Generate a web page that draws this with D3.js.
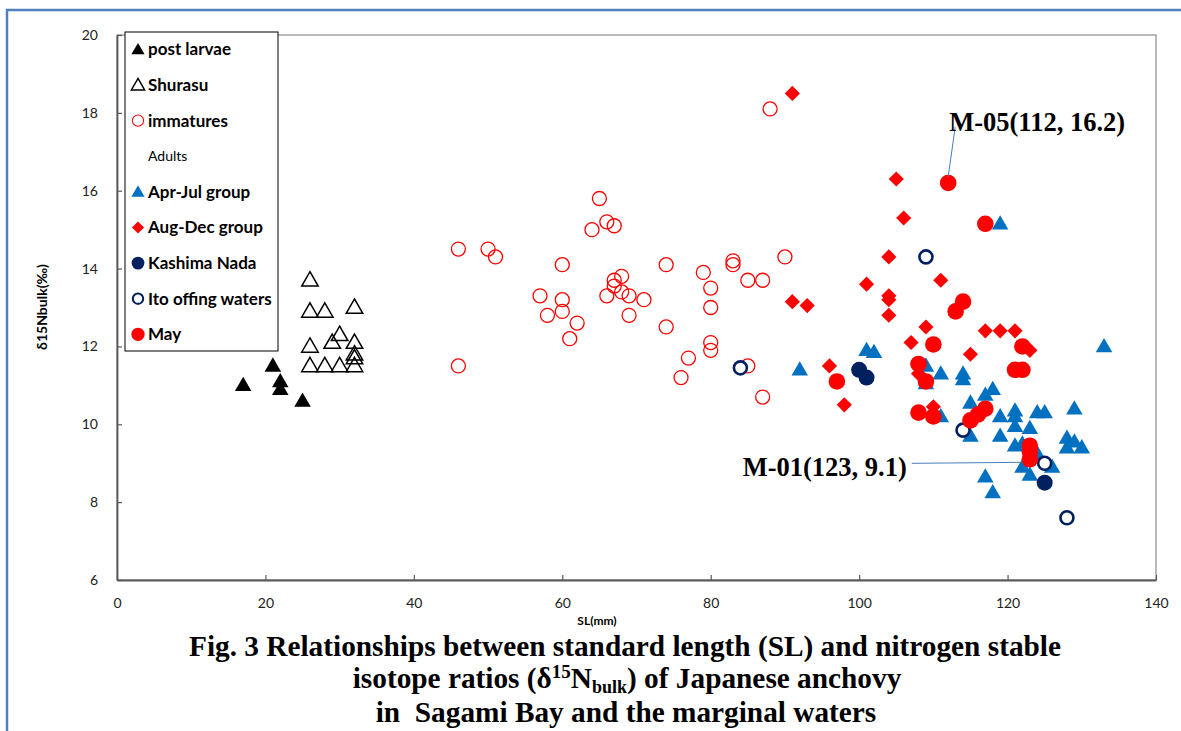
<!DOCTYPE html>
<html>
<head>
<meta charset="utf-8">
<script src="https://cdnjs.cloudflare.com/ajax/libs/d3/7.8.5/d3.min.js"></script>
<style>
  body { margin: 0; background: #fff; }
  svg { display: block; }
</style>
</head>
<body>
<svg class="chart"></svg>
<script>
const graphWidth = 1181;
const graphHeight = 731;

// values, [SL(mm), d15N]
const postLarvae = [[17, 11.0], [21, 11.5], [22, 11.1], [22, 10.9], [25, 10.6]];
const shurasu = [
  [26, 13.7], [26, 12.9], [28, 12.9], [32, 13.0], [30, 12.3], [29, 12.1], [26, 12.0],
  [32, 12.1], [32, 11.8], [32, 11.7], [26, 11.5], [28, 11.5], [30, 11.5], [32, 11.5]
];
const immatures = [
  [88, 18.1], [46, 14.5], [50, 14.5], [51, 14.3], [65, 15.8], [66, 15.2], [67, 15.1],
  [64, 15.0], [60, 14.1], [74, 14.1], [83, 14.2], [83, 14.1], [90, 14.3], [79, 13.9],
  [85, 13.7], [87, 13.7], [80, 13.5], [80, 13.0], [68, 13.8], [67, 13.7], [67, 13.55],
  [68, 13.4], [66, 13.3], [69, 13.3], [71, 13.2], [57, 13.3], [60, 13.2], [60, 12.9],
  [58, 12.8], [62, 12.6], [69, 12.8], [61, 12.2], [74, 12.5], [80, 12.1], [80, 11.9],
  [77, 11.7], [76, 11.2], [85, 11.5], [87, 10.7], [46, 11.5]
];
const aprJul = [
  [119, 15.15], [133, 12.0], [92, 11.4], [101, 11.9], [102, 11.85], [109, 11.5],
  [109, 11.05], [111, 11.3], [114, 11.3], [114, 11.15], [111, 10.2], [115, 10.55],
  [117, 10.75], [118, 10.9], [115, 9.7], [119, 10.2], [121, 10.35], [121, 10.2],
  [121, 9.95], [119, 9.7], [123, 9.9], [124, 10.3], [125, 10.3], [122, 9.5], [122, 8.9],
  [123, 8.7], [124, 9.25], [126, 8.9], [129, 10.4], [128, 9.65], [129, 9.55], [130, 9.4],
  [128, 9.4], [117, 8.65], [118, 8.25], [121, 9.45]
];
const augDec = [
  [91, 18.5], [105, 16.3], [106, 15.3], [104, 14.3], [111, 13.7], [101, 13.6], [104, 13.3],
  [104, 13.2], [104, 12.8], [91, 13.15], [93, 13.05], [109, 12.5], [107, 12.1], [117, 12.4],
  [119, 12.4], [121, 12.4], [115, 11.8], [123, 11.9], [96, 11.5], [108, 11.3], [98, 10.5],
  [110, 10.45]
];
const kashimaNada = [[100, 11.4], [101, 11.2], [125, 8.5]];
const itoOffing = [[84, 11.45], [109, 14.3], [114, 9.85], [125, 9.0], [128, 7.6]];
const may = [
  [112, 16.2], [117, 15.15], [114, 13.15], [113, 12.9], [110, 12.05], [122, 12.0],
  [121, 11.4], [122, 11.4], [97, 11.1], [108, 11.55], [109, 11.1], [108, 10.3], [110, 10.2],
  [115, 10.1], [116, 10.25], [117, 10.4], [123, 9.45], [123, 9.3], [123, 9.1]
];

const xTicks = [0, 20, 40, 60, 80, 100, 120, 140];
const yTicks = [6, 8, 10, 12, 14, 16, 18, 20];
const annotations = [
  { label: 'M-05(112, 16.2)', point: [112, 16.2], side: 'above' },
  { label: 'M-01(123, 9.1)', point: [123, 9.1], side: 'left' }
];

const red = '#ff0000';
const blue = '#0070c0';
const navy = '#002060';

const svg = d3
  .select('.chart')
  .attr('width', graphWidth)
  .attr('height', graphHeight);

svg.append('rect').attr('width', graphWidth).attr('height', graphHeight).attr('fill', '#fff');

// blue frame of the text box around the figure
svg
  .append('rect')
  .attr('x', 7)
  .attr('y', 10)
  .attr('width', 1400)
  .attr('height', 1000)
  .attr('fill', 'none')
  .attr('stroke', '#4f81bd')
  .attr('stroke-width', 2.5);

const x = d3.scaleLinear().domain([0, 140]).range([117, 1156]);
const y = d3.scaleLinear().domain([6, 20]).range([580, 35]);

// plot frame (top/right)
svg
  .append('rect')
  .attr('x', x(0))
  .attr('y', y(20))
  .attr('width', x(140) - x(0))
  .attr('height', y(6) - y(20))
  .attr('fill', 'none')
  .attr('stroke', '#8c8c8c')
  .attr('stroke-width', 1.2);

const xAxis = svg
  .append('g')
  .attr('transform', 'translate(0,' + y(6) + ')')
  .call(d3.axisBottom(x).tickValues(xTicks).tickSizeInner(-5).tickSizeOuter(0).tickPadding(18));

const yAxis = svg
  .append('g')
  .attr('transform', 'translate(' + x(0) + ',0)')
  .call(d3.axisLeft(y).tickValues(yTicks).tickSizeInner(-5).tickSizeOuter(0).tickPadding(19));

[xAxis, yAxis].forEach(ax => {
  ax.select('.domain').attr('stroke', '#595959').attr('stroke-width', 1.8);
  ax.selectAll('.tick line').attr('stroke', '#595959').attr('stroke-width', 1.2);
  ax.selectAll('.tick text')
    .attr('fill', '#222')
    .style('font-family', 'Lato, sans-serif')
    .style('font-size', '14px');
});

svg
  .append('text')
  .attr('x', 597)
  .attr('y', 625)
  .attr('text-anchor', 'middle')
  .style('font-family', 'Lato, sans-serif')
  .style('font-weight', 'bold')
  .style('font-size', '12px')
  .text('SL(mm)');

svg
  .append('text')
  .attr('transform', 'translate(47,307) rotate(-90)')
  .attr('text-anchor', 'middle')
  .style('font-family', 'Lato, sans-serif')
  .style('font-weight', 'bold')
  .style('font-size', '14px')
  .text('δ15Nbulk(‰)');

// marker styles, in legend order (also drawing order)
const series = [
  { name: 'post larvae', data: postLarvae, kind: 'tri', fill: '#000', stroke: 'none' },
  { name: 'Shurasu', data: shurasu, kind: 'tri', fill: 'none', stroke: '#000', sw: 1.5 },
  { name: 'immatures', data: immatures, kind: 'circle', r: 7, fill: 'none', stroke: red, sw: 1.3 },
  { name: 'Adults', data: [], kind: 'none' },
  { name: 'Apr-Jul group', data: aprJul, kind: 'tri', fill: blue, stroke: 'none' },
  { name: 'Aug-Dec group', data: augDec, kind: 'diamond', fill: red, stroke: 'none' },
  { name: 'Kashima Nada', data: kashimaNada, kind: 'circle', r: 8, fill: navy, stroke: 'none' },
  { name: 'Ito offing waters', data: itoOffing, kind: 'circle', r: 6.5, fill: '#fff', stroke: navy, sw: 2.6 },
  { name: 'May', data: may, kind: 'circle', r: 8.3, fill: red, stroke: 'none' }
];

function drawMarker(sel, s, scale) {
  if (s.kind === 'circle') {
    sel
      .append('circle')
      .attr('r', s.r * scale)
      .attr('fill', s.fill)
      .attr('stroke', s.stroke)
      .attr('stroke-width', (s.sw || 0) * scale);
  } else if (s.kind === 'tri') {
    sel
      .append('path')
      .attr('d', d3.symbol(d3.symbolTriangle, 118 * scale * scale)())
      .attr('transform', 'translate(0,1)')
      .attr('fill', s.fill)
      .attr('stroke', s.stroke)
      .attr('stroke-width', s.sw || 0);
  } else if (s.kind === 'diamond') {
    sel
      .append('path')
      .attr('d', d3.symbol(d3.symbolSquare, 115 * scale * scale)())
      .attr('transform', 'rotate(45)')
      .attr('fill', s.fill);
  }
}

series.forEach(s => {
  svg
    .append('g')
    .attr('class', 'series')
    .selectAll('g')
    .data(s.data)
    .enter()
    .append('g')
    .attr('transform', d => 'translate(' + x(d[0]) + ',' + y(d[1]) + ')')
    .each(function() {
      drawMarker(d3.select(this), s, 1);
    });
});

// legend
const legend = svg.append('g').attr('class', 'legend');
legend
  .append('rect')
  .attr('x', 125)
  .attr('y', 32)
  .attr('width', 153)
  .attr('height', 319)
  .attr('fill', '#fff')
  .attr('stroke', '#000')
  .attr('stroke-width', 1);

const rows = legend
  .selectAll('g.row')
  .data(series)
  .enter()
  .append('g')
  .attr('class', 'row')
  .attr('transform', (d, i) => 'translate(138,' + (49.5 + i * 35.6) + ')');

rows.each(function(s) {
  drawMarker(d3.select(this), s, 0.8);
});

rows
  .append('text')
  .attr('x', 10)
  .attr('dy', '0.35em')
  .style('font-family', 'Lato, sans-serif')
  .style('font-weight', d => (d.kind === 'none' ? 'normal' : 'bold'))
  .style('font-size', d => (d.kind === 'none' ? '14px' : '17px'))
  .attr('fill', '#000')
  .text(d => d.name);

// annotations
annotations.forEach(a => {
  const px = x(a.point[0]);
  const py = y(a.point[1]);
  let tx, ty, anchor, line;
  if (a.side === 'above') {
    tx = px + 1;
    ty = py - 52;
    anchor = 'start';
    line = [[px + 7, ty - 4], [px, py - 6]];
  } else {
    tx = px - 123;
    ty = py + 17;
    anchor = 'end';
    line = [[tx + 5, py + 4], [px - 8, py + 3]];
  }
  svg
    .append('line')
    .attr('x1', line[0][0])
    .attr('y1', line[0][1])
    .attr('x2', line[1][0])
    .attr('y2', line[1][1])
    .attr('stroke', '#4a7ebb')
    .attr('stroke-width', 1);
  svg
    .append('text')
    .attr('x', tx)
    .attr('y', ty)
    .attr('text-anchor', anchor)
    .style('font-family', '"Liberation Serif", "Times New Roman", serif')
    .style('font-weight', 'bold')
    .style('font-size', '26.5px')
    .text(a.label);
});

// caption
const caption = svg
  .append('g')
  .attr('class', 'caption')
  .style('font-family', '"Liberation Serif", "Times New Roman", serif')
  .style('font-weight', 'bold')
  .style('font-size', '29.3px')
  .attr('text-anchor', 'middle');

caption
  .append('text')
  .attr('x', 625)
  .attr('y', 656)
  .text('Fig. 3 Relationships between standard length (SL) and nitrogen stable');

const line2 = caption.append('text').attr('x', 627).attr('y', 688);
line2.append('tspan').text('isotope ratios (δ');
line2.append('tspan').attr('dy', -10).style('font-size', '19px').text('15');
line2.append('tspan').attr('dy', 10).text('N');
line2.append('tspan').attr('dy', 5).style('font-size', '18px').text('bulk');
line2.append('tspan').attr('dy', -5).text(') of Japanese anchovy');

caption
  .append('text')
  .attr('x', 626)
  .attr('y', 722)
  .style('white-space', 'pre')
  .text('in  Sagami Bay and the marginal waters');
</script>
</body>
</html>
